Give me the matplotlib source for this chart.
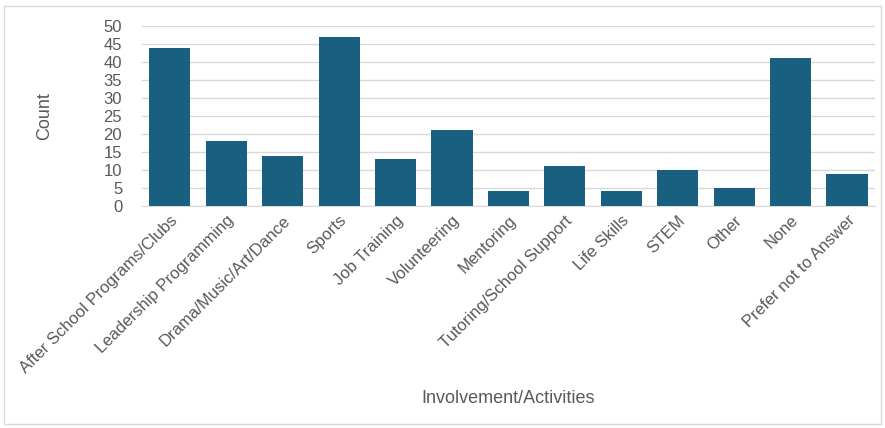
import matplotlib
matplotlib.use("Agg")
import matplotlib.pyplot as plt
from matplotlib.patches import Rectangle

categories = ["After School Programs/Clubs", "Leadership Programming", "Drama/Music/Art/Dance",
              "Sports", "Job Training", "Volunteering", "Mentoring", "Tutoring/School Support",
              "Life Skills", "STEM", "Other", "None", "Prefer not to Answer"]
counts = [44, 18, 14, 47, 13, 21, 4, 11, 4, 10, 5, 41, 9]
yticks = [0, 5, 10, 15, 20, 25, 30, 35, 40, 45, 50]

plt.rcParams['font.family'] = ['Liberation Sans', 'DejaVu Sans']
fig = plt.figure(figsize=(8.85, 4.28), dpi=100)
ax = fig.add_axes([0.160, 0.519, 0.829, 0.420])

x = range(len(categories))
ax.bar(x, counts, width=0.73, color='#195f80', zorder=3)
ax.set_xlim(-0.5, len(categories) - 0.5)
ax.set_ylim(0, 50)
ax.set_yticks(yticks)
ax.set_yticklabels([str(v) for v in yticks], fontsize=12, color='#595959')
ax.set_xticks(list(x))
ax.set_xticklabels(categories, rotation=45, ha='right', rotation_mode='anchor',
                   fontsize=12, color='#595959')
ax.tick_params(axis='x', length=0, pad=5)
ax.tick_params(axis='y', length=0, pad=14)
ax.grid(axis='y', color='#d9d9d9', linewidth=1, zorder=0)
for s in ['top', 'right', 'left']:
    ax.spines[s].set_visible(False)
ax.spines['bottom'].set_color('#d9d9d9')
ax.set_ylabel('Count', fontsize=13, color='#595959', labelpad=36)
fig.text(0.574, 0.07, 'Involvement/Activities', fontsize=13, color='#595959', ha='center', va='center')

fig.patches.append(Rectangle((0.005, 0.01), 0.99, 0.975, transform=fig.transFigure,
                             fill=False, edgecolor='#d9d9d9', linewidth=1))
fig.savefig('out.png', dpi=100)
